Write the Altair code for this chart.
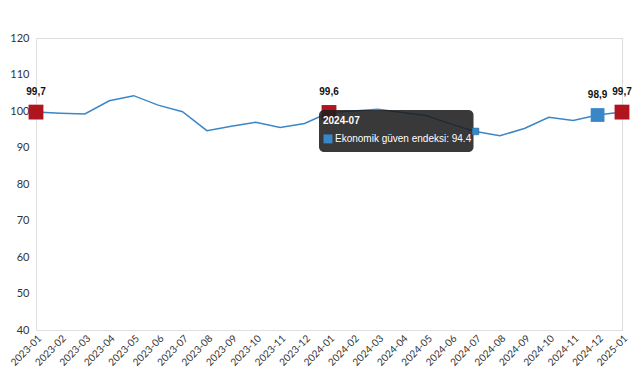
import altair as alt
import pandas as pd

months = ["2023-01","2023-02","2023-03","2023-04","2023-05","2023-06","2023-07","2023-08",
          "2023-09","2023-10","2023-11","2023-12","2024-01","2024-02","2024-03","2024-04",
          "2024-05","2024-06","2024-07","2024-08","2024-09","2024-10","2024-11","2024-12","2025-01"]
values = [99.7, 99.4, 99.2, 102.8, 104.2, 101.6, 99.8, 94.6, 95.8, 96.9, 95.5, 96.6, 99.6,
          100.0, 100.5, 99.6, 98.7, 96.4, 94.4, 93.2, 95.2, 98.3, 97.4, 98.9, 99.7]
y_ticks = [40, 50, 60, 70, 80, 90, 100, 110, 120]

red_months = ["2023-01", "2024-01", "2025-01"]
blue_months = ["2024-12"]
hover_month = "2024-07"
series_name = "Ekonomik güven endeksi"

# tooltip box extent (in data units)
tip_left, tip_right = "2024-01", "2024-07"
tip_top, tip_bottom = 100.3, 88.8

df = pd.DataFrame({"month": months, "value": values})
df["label"] = df["value"].map(lambda v: f"{v:.1f}".replace(".", ","))

FONT = "Lato"
LINE = "#3A87C8"
RED = "#B0141E"

xscale = alt.Scale(type="point", padding=0, domain=months)
xaxis = alt.Axis(title=None, labelAngle=-45, labelAlign="right", labelBaseline="top",
                 ticks=False, labelFont=FONT, labelFontSize=10, labelColor="#333",
                 domainColor="#e0e0e0", labelPadding=3, labelOverlap=False)
yscale = alt.Scale(domain=[40, 120], nice=False)
yaxis = alt.Axis(title=None, values=y_ticks, grid=False, ticks=False,
                 labelFont=FONT, labelFontSize=11, labelColor="#333",
                 domainColor="#e0e0e0", labelPadding=7, labelOverlap=False, labelFlush=False)

xenc = alt.X("month:O", scale=xscale, axis=xaxis)
yenc = alt.Y("value:Q", scale=yscale, axis=yaxis)

base = alt.Chart(df)
line = base.mark_line(color=LINE, strokeWidth=1.5).encode(x=xenc, y=yenc)

red = base.transform_filter(alt.FieldOneOfPredicate(field="month", oneOf=red_months)).mark_square(
    color=RED, size=220, opacity=1).encode(x=xenc, y=yenc)
blue = base.transform_filter(alt.FieldOneOfPredicate(field="month", oneOf=blue_months)).mark_square(
    color=LINE, size=190, opacity=1).encode(x=xenc, y=yenc)
labels = base.transform_filter(
    alt.FieldOneOfPredicate(field="month", oneOf=red_months + blue_months)).mark_text(
    font="Liberation Sans", fontSize=10, fontWeight="bold", color="#111", dy=-20).encode(
    x=xenc, y=yenc, text="label:N")

tip_df = pd.DataFrame({"x1": [tip_left], "x2": [tip_right], "top": [tip_top], "bottom": [tip_bottom],
                       "title": [hover_month],
                       "body": [f"{series_name}: {values[months.index(hover_month)]}"]})
tip = alt.Chart(tip_df)
tx = alt.X("x1:O", scale=xscale, axis=xaxis)
ty = alt.Y("top:Q", scale=yscale, axis=yaxis)
box = tip.mark_rect(color="#1e1e1e", opacity=0.88, cornerRadius=5, xOffset=-10, x2Offset=-2).encode(
    x=tx, x2="x2:O", y=ty, y2="bottom:Q")
tip_title = tip.mark_text(align="left", baseline="top", font="Liberation Sans", fontSize=10,
                          fontWeight="bold", color="white", dx=-6, dy=6).encode(
    x=tx, y=ty, text="title:N")
tip_sq = tip.mark_square(color=LINE, size=80, opacity=1, xOffset=-1, yOffset=29).encode(
    x=tx, y=ty)
tip_body = tip.mark_text(align="left", baseline="top", font="Liberation Sans", fontSize=10,
                         color="white", dx=6, dy=24).encode(
    x=tx, y=ty, text="body:N")

hover = base.transform_filter(alt.datum.month == hover_month).mark_square(
    color=LINE, size=45, opacity=1, stroke="#1a5f99", strokeWidth=0.5).encode(x=xenc, y=yenc)

chart = alt.layer(line, red, blue, labels, box, tip_title, tip_sq, tip_body, hover).properties(
    width=586, height=292,
    autosize=alt.AutoSizeParams(type="none"),
    padding={"left": 28, "top": 30, "right": 11, "bottom": 42}
).configure_view(stroke=None).configure(background="white")

chart.save("out.html", embed_options={"renderer": "svg", "actions": False})
